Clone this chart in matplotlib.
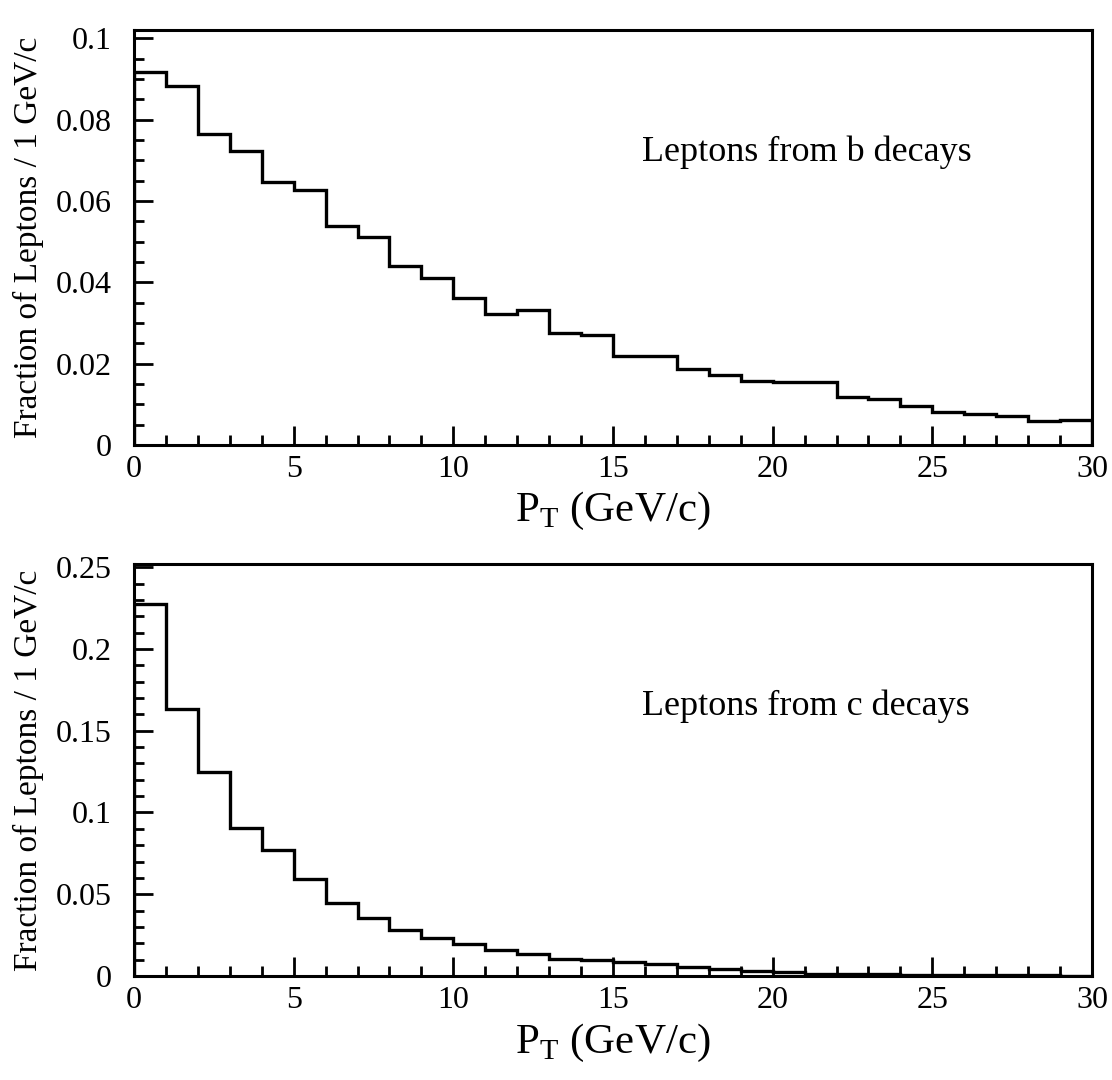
import matplotlib.pyplot as plt
from matplotlib.ticker import MultipleLocator
import numpy as np

plt.rcParams['font.family'] = ['Liberation Serif', 'DejaVu Serif']
plt.rcParams['mathtext.fontset'] = 'custom'
plt.rcParams['mathtext.rm'] = 'Liberation Serif'

# pT bins, 1 GeV/c wide
edges = np.arange(0, 31, 1)

# leptons from b decays
b_frac = [0.0917, 0.0882, 0.0766, 0.0723, 0.0646, 0.0626, 0.0538, 0.0512, 0.0440, 0.0411,
          0.0362, 0.0322, 0.0332, 0.0275, 0.0271, 0.0220, 0.0220, 0.0187, 0.0171, 0.0157,
          0.0155, 0.0155, 0.0119, 0.0114, 0.0095, 0.0081, 0.0075, 0.0071, 0.0060, 0.0062]

# leptons from c decays
c_frac = [0.2276, 0.1633, 0.1245, 0.0908, 0.0769, 0.0592, 0.0449, 0.0353, 0.0280, 0.0235,
          0.0194, 0.0157, 0.0133, 0.0106, 0.0098, 0.0085, 0.0075, 0.0055, 0.0040, 0.0032,
          0.0025, 0.0012, 0.0015, 0.0010, 0.0008, 0.0008, 0.0006, 0.0005, 0.0004, 0.0003]

panels = [
    (b_frac, 'Leptons from b decays', 0.102, 0.02, 0.005, ['0', '0.02', '0.04', '0.06', '0.08', '0.1'], 0.072, -0.108),
    (c_frac, 'Leptons from c decays', 0.252, 0.05, 0.01, ['0', '0.05', '0.1', '0.15', '0.2', '0.25'], 0.165, -0.112),
]

fig = plt.figure(figsize=(11.12, 10.8), dpi=100)
boxes = [[0.1205, 0.588, 0.8615, 0.384], [0.1205, 0.0963, 0.8615, 0.3815]]

for box, (vals, label, ytop, major, minor, ylabs, ytext, xl_y) in zip(boxes, panels):
    ax = fig.add_axes(box)
    ax.stairs(vals, edges, color='black', linewidth=2.4)
    ax.set_xlim(0, 30)
    ax.set_ylim(0, ytop)
    ax.xaxis.set_major_locator(MultipleLocator(5))
    ax.xaxis.set_minor_locator(MultipleLocator(1))
    ax.set_yticks(np.arange(len(ylabs)) * major)
    ax.set_yticklabels(ylabs)
    ax.yaxis.set_minor_locator(MultipleLocator(minor))
    ax.tick_params(which='both', direction='in', top=False, right=False,
                   labelsize=23, width=2)
    ax.tick_params(which='major', length=14)
    ax.tick_params(which='minor', length=7)
    ax.tick_params(axis='x', pad=7)
    ax.tick_params(axis='y', pad=16)
    for s in ax.spines.values():
        s.set_linewidth(2.2)
    ax.set_xlabel(r'P$_\mathrm{T}$ (GeV/c)', fontsize=31)
    ax.xaxis.set_label_coords(0.5, xl_y)
    ax.set_ylabel('Fraction of Leptons / 1 GeV/c', fontsize=24)
    ax.yaxis.set_label_coords(-0.094, 0.5)
    ax.text(15.9, ytext, label, fontsize=26, va='center', ha='left')

fig.savefig('out.png', dpi=100)
